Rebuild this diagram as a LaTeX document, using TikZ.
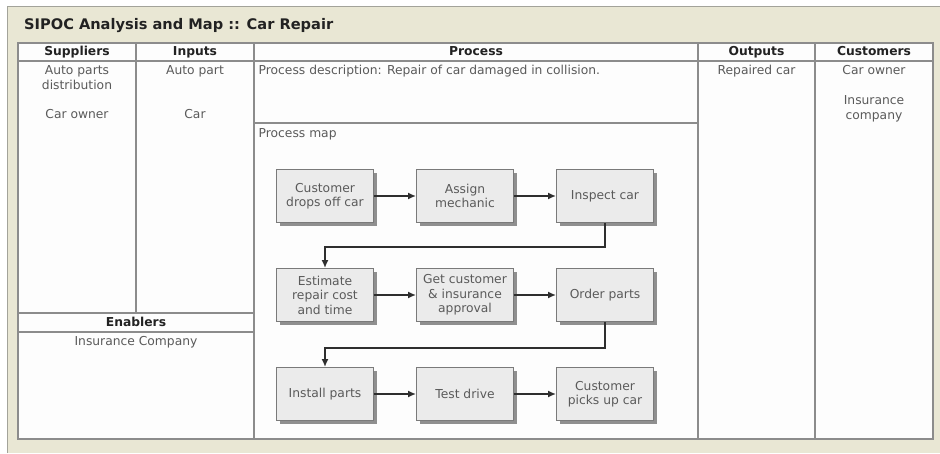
\documentclass[tikz,border=0pt]{standalone}
\usepackage{fontspec}
\setmainfont{DejaVu Sans}
\usetikzlibrary{arrows.meta,shadows}
\definecolor{panelbg}{HTML}{E9E7D4}
\definecolor{panelline}{HTML}{A3A39A}
\definecolor{gridline}{HTML}{8C8C8C}
\definecolor{cellbg}{HTML}{FDFDFD}
\definecolor{boxfill}{HTML}{EBEBEB}
\definecolor{boxline}{HTML}{7A7A7A}
\definecolor{boxshadow}{HTML}{8F8F8F}
\definecolor{bodytext}{HTML}{5A5A5A}
\definecolor{headtext}{HTML}{222222}
\definecolor{wire}{HTML}{2E2E2E}
\tikzset{
  title/.style={anchor=base west, inner sep=0pt, text=headtext,
    font=\fontsize{14.6}{17}\selectfont\bfseries},
  colhead/.style={anchor=base, inner sep=0pt, text=headtext,
    font=\fontsize{12.3}{14}\selectfont\bfseries},
  celltext/.style={anchor=base, inner sep=0pt, text=bodytext, align=center,
    font=\fontsize{12.3}{15}\selectfont},
  multitext/.style={celltext, anchor=center},
  lefttext/.style={celltext, anchor=base west},
  stepbox/.style={draw=boxline, line width=0.9pt, fill=boxfill,
    minimum width=97pt, minimum height=53pt, inner sep=1pt,
    align=center, text=bodytext,
    font=\fontsize{12.3}{14.5}\selectfont,
    drop shadow={shadow xshift=3.5pt, shadow yshift=-3.5pt,
      fill=boxshadow, opacity=1}},
  conn/.style={draw=wire, line width=2pt,
    -{Latex[length=8pt,width=7pt]}},
  grid/.style={draw=gridline, line width=1.1pt}
}
\begin{document}
\begin{tikzpicture}[x=1pt,y=-1pt]
  % page and panel
  \fill[white] (0,0) rectangle (940,453);
  \useasboundingbox (0,0) rectangle (940,453);
  \fill[panelbg] (7,6) rectangle (940,453);
  \draw[panelline, line width=1.3pt] (7.5,453) -- (7.5,6.5) -- (940,6.5);

  \node[title] (ttl) at (24,29.5) {SIPOC Analysis and Map :: Car Repair};

  % table frame and grid
  \fill[cellbg] (18,43) rectangle (933,439);
  \draw[grid] (18,43) rectangle (933,439);
  \draw[grid] (18,61) -- (933,61);
  \draw[grid] (136,43) -- (136,313);
  \draw[grid] (254,43) -- (254,439);
  \draw[grid] (698,43) -- (698,439);
  \draw[grid] (815,43) -- (815,439);
  \draw[grid] (254,123) -- (698,123);
  \draw[grid] (18,313) -- (254,313);
  \draw[grid] (18,332) -- (254,332);

  % column headings
  \node[colhead] (hS) at (77,55.5) {Suppliers};
  \node[colhead] (hI) at (195,55.5) {Inputs};
  \node[colhead] (hP) at (476,55.5) {Process};
  \node[colhead] (hO) at (756.5,55.5) {Outputs};
  \node[colhead] (hC) at (874,55.5) {Customers};
  \node[colhead] (hE) at (136,326.5) {Enablers};

  % cell contents
  \node[multitext] (s1) at (77,77.5) {Auto parts\\distribution};
  \node[celltext] (s2) at (77,118) {Car owner};
  \node[celltext] (i1) at (195,74.5) {Auto part};
  \node[celltext] (i2) at (195,118) {Car};
  \node[lefttext] (pd) at (258.5,74.5) {Process description: Repair of car damaged in collision.};
  \node[lefttext] (pm) at (258.5,137.5) {Process map};
  \node[celltext] (o1) at (756.5,74.5) {Repaired car};
  \node[celltext] (c1) at (874,74.5) {Car owner};
  \node[multitext] (c2) at (874,109) {Insurance\\company};
  \node[celltext] (e1) at (136,345) {Insurance Company};

  % process map
  \node[stepbox] (b1) at (325,196) {Customer\\drops off car};
  \node[stepbox] (b2) at (465,196) {Assign\\mechanic};
  \node[stepbox] (b3) at (605,196) {Inspect car};
  \node[stepbox] (b4) at (325,295) {Estimate\\repair cost\\and time};
  \node[stepbox] (b5) at (465,295) {Get customer\\\& insurance\\approval};
  \node[stepbox] (b6) at (605,295) {Order parts};
  \node[stepbox] (b7) at (325,394) {Install parts};
  \node[stepbox] (b8) at (465,394) {Test drive};
  \node[stepbox] (b9) at (605,394) {Customer\\picks up car};

  \coordinate (turn1) at (465,247);
  \coordinate (turn2) at (465,348);

  \draw[conn] (b1) -- (b2);
  \draw[conn] (b2) -- (b3);
  \draw[conn] (b3.south) -- (b3.south |- turn1) -| (b4.north);
  \draw[conn] (b4) -- (b5);
  \draw[conn] (b5) -- (b6);
  \draw[conn] (b6.south) -- (b6.south |- turn2) -| (b7.north);
  \draw[conn] (b7) -- (b8);
  \draw[conn] (b8) -- (b9);
\end{tikzpicture}
\end{document}
